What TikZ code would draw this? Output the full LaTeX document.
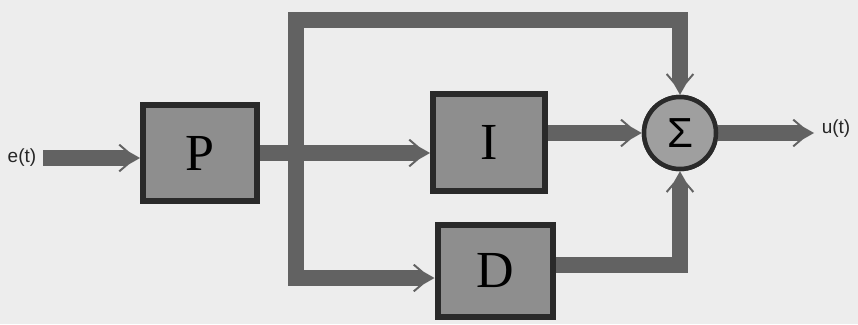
\documentclass[tikz,border=0pt]{standalone}
\usepackage{fontspec}
\setmainfont{Liberation Serif}
\setsansfont{Liberation Sans}
\usetikzlibrary{arrows.meta}
\definecolor{bg}{HTML}{EDEDED}
\definecolor{boxfill}{HTML}{8E8E8E}
\definecolor{boxline}{HTML}{2A2A2A}
\definecolor{wire}{HTML}{626262}
\pgfdeclarearrow{
  name=Chev,
  setup code={
    \pgfarrowssettipend{0pt}
    \pgfarrowssetlineend{-15pt}
    \pgfarrowsupperhullpoint{-22pt}{14pt}
    \pgfarrowsupperhullpoint{0pt}{0pt}
  },
  drawing code={
    \pgfpathmoveto{\pgfqpoint{0pt}{0pt}}
    \pgfpathlineto{\pgfqpoint{-11pt}{6.3pt}}
    \pgfpathlineto{\pgfqpoint{-20pt}{14pt}}
    \pgfpathlineto{\pgfqpoint{-21.5pt}{12.7pt}}
    \pgfpathlineto{\pgfqpoint{-16pt}{8pt}}
    \pgfpathlineto{\pgfqpoint{-16pt}{-8pt}}
    \pgfpathlineto{\pgfqpoint{-21.5pt}{-12.7pt}}
    \pgfpathlineto{\pgfqpoint{-20pt}{-14pt}}
    \pgfpathlineto{\pgfqpoint{-11pt}{-6.3pt}}
    \pgfpathclose
    \pgfusepathqfill
  },
}
\tikzset{
  block/.style={draw=boxline, line width=6pt, fill=boxfill, inner sep=0pt,
    font=\fontsize{52}{56}\selectfont},
  sumnode/.style={circle, draw=boxline, line width=4.5pt, fill=boxfill!85!white,
    minimum size=72pt, inner sep=0pt, font=\sffamily\fontsize{42}{46}\selectfont},
  wireline/.style={draw=wire, line width=16pt, line join=miter},
  flow/.style={wireline, -Chev},
  signal/.style={font=\sffamily\fontsize{19}{22}\selectfont, text=black!85}
}
\begin{document}
\begin{tikzpicture}[x=1pt,y=-1pt]
\useasboundingbox[fill=bg] (0,0) rectangle (858,324);
% blocks
\node[block, minimum width=114pt, minimum height=96pt] (P) at (200,153) {P};
\node[block, minimum width=112pt, minimum height=97pt] (I) at (489,142) {I};
\node[block, minimum width=115pt, minimum height=92pt] (D) at (495,271) {D};
\node[sumnode] (S) at (680,133) {Σ};
% signals
\node[signal] (e) at (22,158) {e(t)};
\node[signal] (u) at (836,129) {u(t)};
% helper coordinates
\coordinate (ein) at (43,158);
\coordinate (br) at (296,153);
\coordinate (tl) at (296,20);
\coordinate (bl) at (296,278);
\coordinate (dout) at (556,265);
\coordinate (dcorner) at (680,265);
\coordinate (uend) at (814,133);
% connectors
\draw[flow] (ein) -- (P.west |- ein);
\draw[flow] (P.east |- br) -- (br -| I.west);
\draw[flow] (br) -- (tl) -| (S.north);
\draw[flow] (br) -- (bl) -- (bl -| D.west);
\draw[flow] (S.west -| I.east) -- (S.west);
\draw[flow] (dout) -- (dcorner) -- (S.south);
\draw[flow] (S.east) -- (uend);
% redraw nodes on top for crisp borders
\node[block, minimum width=114pt, minimum height=96pt] at (P) {P};
\node[block, minimum width=112pt, minimum height=97pt] at (I) {I};
\node[block, minimum width=115pt, minimum height=92pt] at (D) {D};
\node[sumnode] at (S) {Σ};
\end{tikzpicture}
\end{document}
